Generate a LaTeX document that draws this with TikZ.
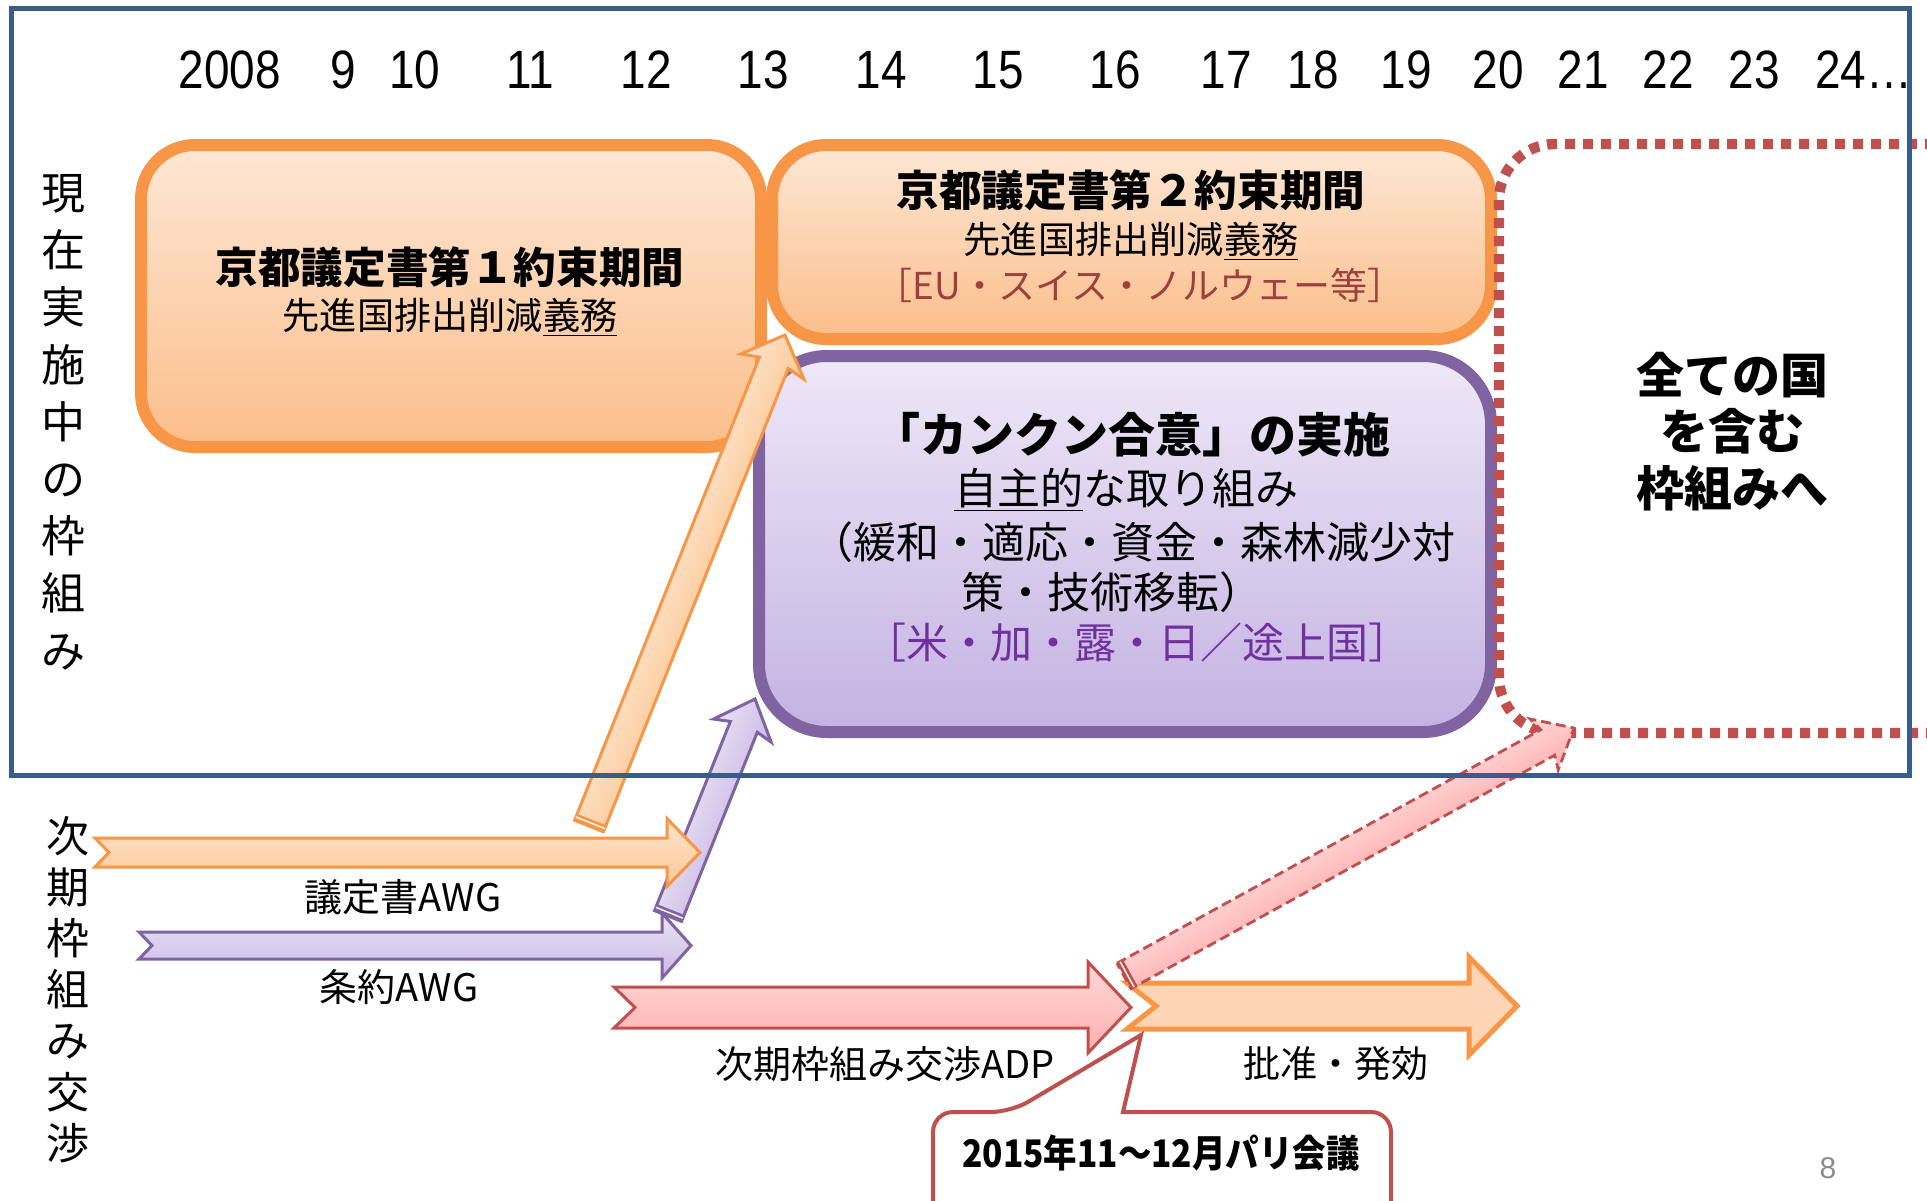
\documentclass[tikz,border=0pt]{standalone}
\usepackage{fontspec}
\setmainfont{Noto Sans CJK JP}
\newfontfamily\yearfont[FakeStretch=0.85]{Liberation Sans}
\newfontfamily\latinfont{Liberation Sans}
\newfontfamily\condjp[FakeStretch=0.88]{Noto Sans CJK JP}
\definecolor{frB}{HTML}{385D8A}
\definecolor{orB}{HTML}{F79646}
\definecolor{orTop}{HTML}{FDE7D5}
\definecolor{orBot}{HTML}{FBBE8A}
\definecolor{puB}{HTML}{8064A2}
\definecolor{puTop}{HTML}{EEE8F7}
\definecolor{puBot}{HTML}{C4B2E2}
\definecolor{rdB}{HTML}{C0504D}
\definecolor{oaTop}{HTML}{FDE4CE}
\definecolor{oaBot}{HTML}{FCC895}
\definecolor{paTop}{HTML}{EAE3F5}
\definecolor{paBot}{HTML}{CBBAE4}
\definecolor{raTop}{HTML}{FFD8D8}
\definecolor{raBot}{HTML}{FFAFAF}
\definecolor{batF}{HTML}{FCD5B4}
\definecolor{euT}{HTML}{9E413E}
\definecolor{usT}{HTML}{7030A0}
\definecolor{pgT}{HTML}{8C8C8C}
\newcommand\harrow[8]{%
  \path[#1] (#2,#6-#7) -- (#4,#6-#7) -- (#4,#6-#8) -- (#5,#6) -- (#4,#6+#8)
    -- (#4,#6+#7) -- (#2,#6+#7) -- (#2+#3,#6) -- cycle;}
\newcommand\diagarrow[7]{%
  \begin{scope}[transform canvas={shift={(#1)},rotate=#2}]
    \path[#6] (0,-#4) -- (#3-30,-#4) -- (#3-34,-#5) -- (#3,0) -- (#3-34,#5)
      -- (#3-30,#4) -- (0,#4) -- cycle;
    \fill[#7] (0,-#4) rectangle (7,#4);
    \draw[white,line width=0.7pt] (3.5,-#4) -- (3.5,#4);
  \end{scope}}
\begin{document}
\begin{tikzpicture}[x=0.5pt,y=-0.5pt,
  obox/.style={draw=orB, line width=6pt, rounded corners=27pt, top color=orTop, bottom color=orBot, inner sep=0pt},
  pbox/.style={draw=puB, line width=6pt, rounded corners=34pt, top color=puTop, bottom color=puBot, inner sep=0pt},
  txt/.style={inner sep=0pt, text=black},
  ttl/.style={txt, font=\fontsize{21.3}{26}\selectfont\bfseries},
  subt/.style={txt, font=\fontsize{18.6}{22}\selectfont},
  body/.style={txt, font=\fontsize{21.5}{25}\selectfont},
  lab/.style={txt, font=\fontsize{19}{23}\selectfont},
  yr/.style={txt, font=\yearfont\fontsize{27}{30}\selectfont},
  oarrow/.style={draw=orB, line width=1.5pt, top color=oaTop, bottom color=oaBot},
  parrow/.style={draw=puB, line width=1.5pt, top color=paTop, bottom color=paBot},
  rarrow/.style={draw=rdB, line width=1.5pt, top color=raTop, bottom color=raBot},
  batarrow/.style={draw=orB, line width=2.5pt, fill=batF},
  rdash/.style={draw=rdB, line width=1.4pt, dash pattern=on 5pt off 2.5pt, top color=raTop, bottom color=raBot},
  dotbox/.style={draw=rdB, line width=5.2pt, dash pattern=on 5pt off 4pt, rounded corners=28pt},
  callout/.style={draw=rdB, line width=2pt, fill=white}
]
\useasboundingbox (0,0) rectangle (1927,1200);
\fill[white] (0,0) rectangle (1927,1200);

% boxes
\node[obox, minimum width=310pt, minimum height=151pt] (kp1) at (451,296) {};
\node[obox, minimum width=359.5pt, minimum height=97pt] (kp2) at (1131.5,242) {};
\node[pbox, minimum width=366pt, minimum height=188pt] (cancun) at (1125,544) {};

\node[ttl] (kp1t) at (450,267) {京都議定書第１約束期間};
\node[subt] (kp1s) at (450,317) {先進国排出削減\underline{義務}};
\node[ttl] (kp2t) at (1131,190) {京都議定書第２約束期間};
\node[subt] (kp2s) at (1131,241) {先進国排出削減\underline{義務}};
\node[txt, font=\fontsize{18.5}{22}\selectfont, text=euT] (kp2e) at (1140,285) {［EU・スイス・ノルウェー等］};

\node[txt, font=\fontsize{23.5}{27}\selectfont\bfseries] (cat) at (1132,435) {「カンクン合意」の実施};
\node[body] (ca2) at (1126,490) {\underline{自主的}な取り組み};
\node[body] (ca3) at (1133,542) {（緩和・適応・資金・森林減少対};
\node[body] (ca4) at (1112,592) {策・技術移転）};
\node[txt, font=\fontsize{21}{24}\selectfont, text=usT] (ca5) at (1137,643) {［米・加・露・日／途上国］};

% future framework (dotted)
\draw[dotbox] (1935,144) -- (1499,144) -- (1499,733) -- (1935,733);
\node[txt, align=center, font=\fontsize{24}{28.25}\selectfont\bfseries] (allc) at (1732,431.5) {全ての国\\を含む\\枠組みへ};

% endpoints of the connecting arrows
\coordinate (odT) at (589,826);  \coordinate (odH) at (785,335);
\coordinate (pdT) at (668,916);  \coordinate (pdH) at (755,699);
\coordinate (rdT) at (1124,976); \coordinate (rdH) at (1574,728);

% negotiation arrows
\harrow{parrow}{139}{13}{662}{691}{945.5}{13.5}{32.5}
\diagarrow{pdT}{68.15}{233.8}{14.5}{31}{parrow}{puB}
\harrow{oarrow}{95}{14}{667}{700}{852.5}{14.5}{34}
\diagarrow{odT}{68.24}{528.7}{15.5}{34}{oarrow}{orB}
\harrow{rarrow}{614}{21}{1088}{1131}{1007.5}{20.5}{45.5}
\harrow{batarrow}{1127}{29}{1469}{1517}{1006}{23}{49}
\diagarrow{rdT}{28.86}{513.8}{14.5}{29}{rdash}{rdB}

% callout
\draw[callout] (933,1245) [rounded corners=10pt] -- (933,1112) -- (1011,1112) [sharp corners] -- (1141,1035) -- (1123,1112) [rounded corners=10pt] -- (1391,1112) -- (1391,1245);
\node[txt, font=\condjp\fontsize{19}{23}\selectfont\bfseries] (paris) at (1161,1153) {2015年11～12月パリ会議};

% frame
\draw[frB, line width=2.5pt] (11,8) rectangle (1909,775);

% labels
\node[lab] (awg1) at (403,897) {議定書AWG};
\node[lab] (awg2) at (399,987) {条約AWG};
\node[lab] (adp) at (885,1064) {次期枠組み交渉ADP};
\node[txt, font=\fontsize{18.5}{22}\selectfont] (bat) at (1336,1064) {批准・発効};

\node[txt, align=center, font=\fontsize{22}{28.6}\selectfont] (vl1) at (63,422) {現\\在\\実\\施\\中\\の\\枠\\組\\み};
\node[txt, align=center, font=\fontsize{21.5}{25.6}\selectfont] (vl2) at (68,989.5) {次\\期\\枠\\組\\み\\交\\渉};

% years
\foreach \t/\x [count=\i] in {2008/230,9/343,10/415,11/530,12/646,13/763,14/881,15/998,16/1115,17/1226,18/1313,19/1406,20/1498,21/1583,22/1668,23/1754}
  \node[yr] (yr\i) at (\x,70) {\t};
\node[yr, anchor=west] (yr17) at (1815,70) {24…};

\node[txt, font=\latinfont\fontsize{15}{18}\selectfont, text=pgT] (pg) at (1828,1168) {8};
\end{tikzpicture}
\end{document}
